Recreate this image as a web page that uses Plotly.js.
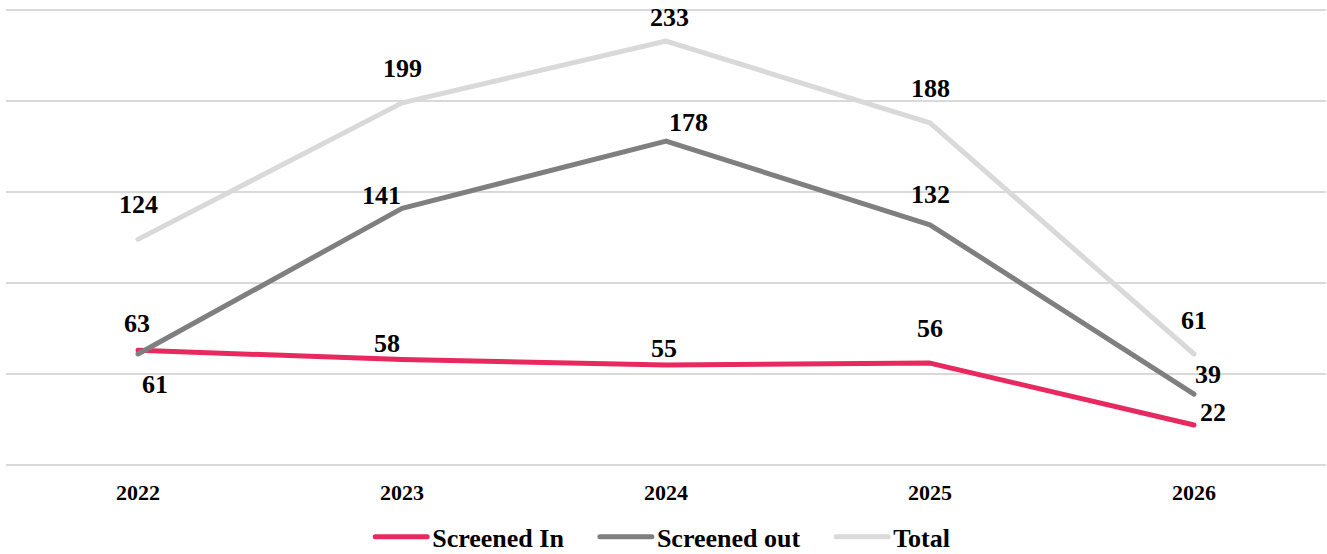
<!DOCTYPE html>
<html>
<head>
<meta charset="utf-8">
<script src="https://cdn.plot.ly/plotly-3.0.1.min.js"></script>
<style>
  html, body { margin: 0; padding: 0; background: #ffffff; }
  #chart { width: 1327px; height: 554px; }
  /* rounded ends and corners on the series lines and their legend keys */
  #chart path.js-line { stroke-linecap: round; stroke-linejoin: round; }
</style>
</head>
<body>
<div id="chart"></div>
<script>
// Referral counts per year
const years = ['2022', '2023', '2024', '2025', '2026'];
const screenedIn = [63, 58, 55, 56, 22];
const screenedOut = [61, 141, 178, 132, 39];
const total = [124, 199, 233, 188, 61];

// Pixel nudges for each value label, [dx, dy] (dy positive = upward)
const inLabelShift = [[-1, 27], [-15, 16], [-2, 16], [0, 35], [19, 12]];
const outLabelShift = [[17, -30], [-21, 13], [22, 19], [0, 30], [14, 20]];
const totalLabelShift = [[0, 35], [0, 34], [3, 24], [0, 34], [0, 34]];

const serif = 'Liberation Serif, Times New Roman, serif';
const pink = '#E8295F';
const grey = '#7F7F7F';
const light = '#D9D9D9';
// trailing non-breaking spaces widen the gap between legend entries
const gap = '\u00A0\u00A0\u00A0\u00A0';

function lineTrace(name, values, color, rank) {
  return {
    type: 'scatter',
    mode: 'lines',
    name: name,
    x: years,
    y: values,
    line: { color: color, width: 5 },
    legendrank: rank,
    hoverinfo: 'skip'
  };
}

function labels(values, shifts) {
  return values.map((v, i) => ({
    x: i,
    y: v,
    xref: 'x',
    yref: 'y',
    text: String(v),
    showarrow: false,
    xshift: shifts[i][0],
    yshift: shifts[i][1],
    font: { family: serif, size: 26, weight: 'bold', color: '#000000' }
  }));
}

const data = [
  lineTrace('Total', total, light, 3),
  lineTrace('Screened In' + gap, screenedIn, pink, 1),
  lineTrace('Screened out' + gap, screenedOut, grey, 2)
];

const layout = {
  width: 1327,
  height: 554,
  margin: { l: 6, r: 1, t: 9, b: 89 },
  paper_bgcolor: '#ffffff',
  plot_bgcolor: '#ffffff',
  showlegend: true,
  legend: {
    orientation: 'h',
    x: 0.4975,
    xanchor: 'center',
    yref: 'container',
    y: 0.031,
    yanchor: 'middle',
    itemwidth: 52,
    font: { family: serif, size: 26, weight: 'bold', color: '#000000' },
    traceorder: 'normal'
  },
  xaxis: {
    type: 'category',
    range: [-0.5, 4.5],
    showgrid: false,
    showline: false,
    zeroline: false,
    ticks: '',
    ticklabelstandoff: 12,
    tickfont: { family: serif, size: 22, weight: 'bold', color: '#000000' },
    fixedrange: true
  },
  yaxis: {
    range: [0, 250.6],
    dtick: 50,
    tick0: 0,
    showgrid: true,
    gridcolor: light,
    gridwidth: 2,
    zeroline: true,
    zerolinecolor: light,
    zerolinewidth: 2,
    showticklabels: false,
    ticks: '',
    fixedrange: true
  },
  annotations: [].concat(
    labels(total, totalLabelShift),
    labels(screenedOut, outLabelShift),
    labels(screenedIn, inLabelShift)
  )
};

Plotly.newPlot('chart', data, layout, { displayModeBar: false, staticPlot: true });
</script>
</body>
</html>
